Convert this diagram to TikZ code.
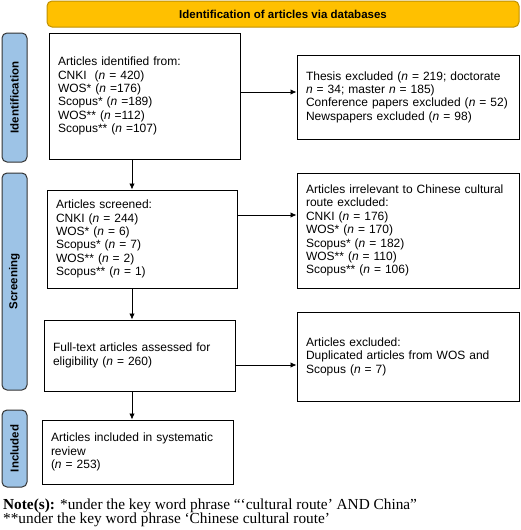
\documentclass[tikz,border=0pt]{standalone}
\usepackage{fontspec}
\setmainfont{Liberation Sans}
\newfontfamily\notefont{Liberation Serif}
\usepackage{tikz}
\usetikzlibrary{arrows.meta}

\definecolor{bannerfill}{HTML}{FFC000}
\definecolor{bannerdraw}{HTML}{BF9000}
\definecolor{barfill}{HTML}{9DC3E6}
\definecolor{bardraw}{HTML}{333333}

\tikzset{
  box/.style={draw,line width=1pt,align=left,inner xsep=9pt,inner ysep=0pt,
    font=\fontsize{12}{13.4}\selectfont},
  bar/.style={draw=bardraw,fill=barfill,line width=1pt,rounded corners=5pt,
    minimum width=25pt,font=\bfseries\fontsize{11.5}{13.4}\selectfont},
  flow/.style={-{Latex[length=6pt,width=5.5pt]},line width=0.8pt}
}

\begin{document}
\begin{tikzpicture}[x=1pt,y=-1pt]
\useasboundingbox (0,0) rectangle (520,530);

\node[draw=bannerdraw,fill=bannerfill,line width=1pt,rounded corners=5pt,
  minimum width=472pt,minimum height=26pt,
  font=\bfseries\fontsize{11.5}{13.4}\selectfont] (banner) at (283,14)
  {Identification of articles via databases};

\node[bar,minimum height=129pt] (idbar) at (14.5,97.5) {};
\node[rotate=90,font=\bfseries\fontsize{11.5}{13.4}\selectfont] at (idbar) {Identification};
\node[bar,minimum height=217pt] (scbar) at (14.5,281.5) {};
\node[rotate=90,font=\bfseries\fontsize{11.5}{13.4}\selectfont] at (scbar) {Screening};
\node[bar,minimum height=77pt] (inbar) at (14.5,448.5) {};
\node[rotate=90,font=\bfseries\fontsize{11.5}{13.4}\selectfont] at (inbar) {Included};

\node[box,text width=173pt,minimum height=126pt] (box1) at (144.5,96)
  {Articles identified from:\\ CNKI\ \ (\textit{n} = 420)\\ WOS* (\textit{n} =176)\\
   Scopus* (\textit{n} =189)\\ WOS** (\textit{n} =112)\\ Scopus** (\textit{n} =107)};
\node[box,text width=204pt,minimum height=84pt] (box2) [right of=box1,node distance=263.5pt,yshift=-1pt]
  {Thesis excluded (\textit{n} = 219; doctorate\\ \textit{n} = 34; master \textit{n} = 185)\\
   Conference papers excluded (\textit{n} = 52)\\ Newspapers excluded (\textit{n} = 98)};

\node[box,text width=172pt,minimum height=98pt] (box3) [below of=box1,node distance=143pt,xshift=-2.5pt]
  {Articles screened:\\ CNKI (\textit{n} = 244)\\ WOS* (\textit{n} = 6)\\
   Scopus* (\textit{n} = 7)\\ WOS** (\textit{n} = 2)\\ Scopus** (\textit{n} = 1)};
\node[box,text width=204pt,minimum height=115pt] (box4) [right of=box3,node distance=266pt,yshift=8.5pt]
  {Articles irrelevant to Chinese cultural\\ route excluded:\\ CNKI (\textit{n} = 176)\\
   WOS* (\textit{n} = 170)\\ Scopus* (\textit{n} = 182)\\ WOS** (\textit{n} = 110)\\
   Scopus** (\textit{n} = 106)};

\node[box,text width=173pt,minimum height=71pt] (box5) [below of=box3,node distance=116.5pt,xshift=-2.5pt]
  {Full-text articles assessed for\\ eligibility (\textit{n} = 260)};
\node[box,text width=204pt,minimum height=89pt] (box6) [right of=box5,node distance=268.5pt,yshift=-1pt]
  {Articles excluded:\\ Duplicated articles from WOS and\\ Scopus (\textit{n} = 7)};

\node[box,text width=173pt,minimum height=64pt] (box7) [below of=box5,node distance=96.5pt,xshift=-2pt]
  {Articles included in systematic\\ review\\ (\textit{n} = 253)};

\node[anchor=north west,align=left,inner sep=0pt,
  font=\notefont\fontsize{15.3}{14}\selectfont] (note) at (3,499)
  {\textbf{Note(s):} *under the key word phrase “‘cultural route’ AND China”\\
   **under the key word phrase ‘Chinese cultural route’};

\coordinate (ax) at (132,0);
\draw[flow] (box1.south -| ax) -- (box3.north -| ax);
\draw[flow] (box3.south -| ax) -- (box5.north -| ax);
\draw[flow] (box5.south -| ax) -- (box7.north -| ax);
\draw[flow] ([yshift=4pt]box1.east) -- ([yshift=4pt]box1.east -| box2.west);
\draw[flow] ([yshift=24pt]box3.east) -- ([yshift=24pt]box3.east -| box4.west);
\draw[flow] ([yshift=-9.5pt]box5.east) -- ([yshift=-9.5pt]box5.east -| box6.west);
\end{tikzpicture}
\end{document}
